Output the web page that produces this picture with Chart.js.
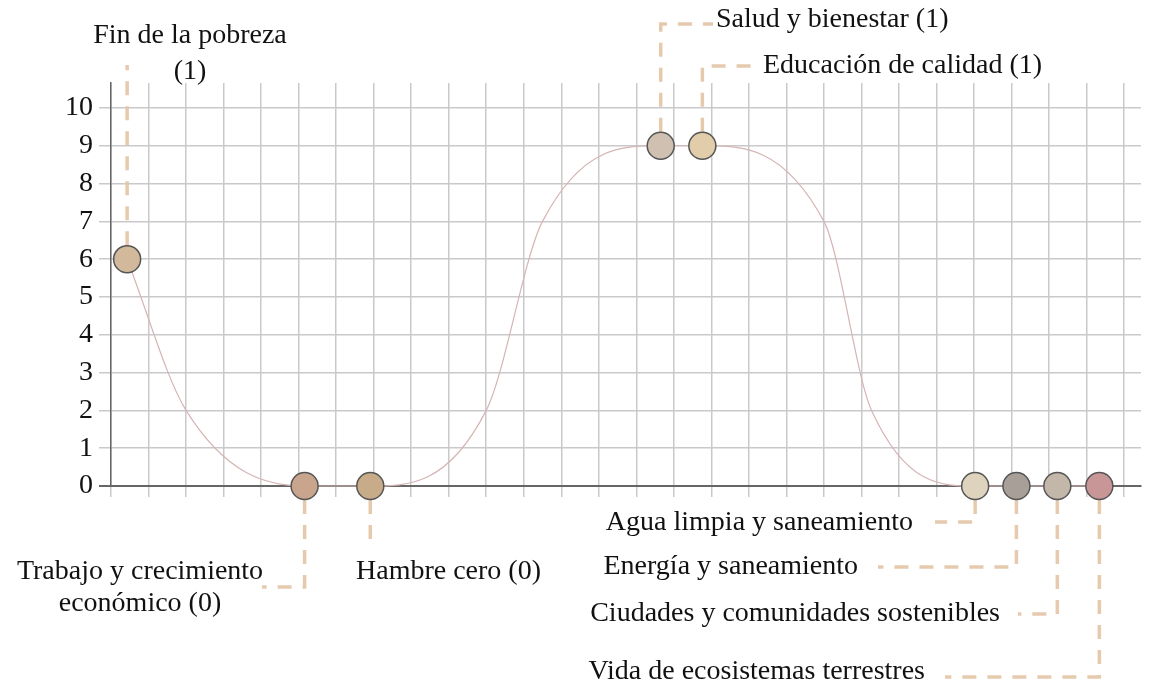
<!DOCTYPE html>
<html>
<head>
<meta charset="utf-8">
<script src="https://cdn.jsdelivr.net/npm/chart.js@4.4.0/dist/chart.umd.min.js"></script>
<style>
  html, body { margin: 0; padding: 0; background: #fff; }
  #contenedor { width: 1156px; height: 686px; }
</style>
</head>
<body>
<div id="contenedor"><canvas id="grafico"></canvas></div>
<script>
// objetivos marcados en la curva
const objetivos = [
    "Fin de la pobreza",
    "Trabajo y crecimiento económico",
    "Hambre cero",
    "Salud y bienestar",
    "Educación de calidad",
    "Agua limpia y saneamiento",
    "Energía y saneamiento",
    "Ciudades y comunidades sostenibles",
    "Vida de ecosistemas terrestres"
];
const posicionX = [0.43, 5.16, 6.91, 14.65, 15.76, 23.03, 24.13, 25.22, 26.34];
const valores = [6, 0, 0, 9, 9, 0, 0, 0, 0];
const etiquetas = [
    ["Fin de la pobreza", "(1)"],
    ["Trabajo y crecimiento", "económico (0)"],
    ["Hambre cero (0)"],
    ["Salud y bienestar (1)"],
    ["Educación de calidad (1)"],
    ["Agua limpia y saneamiento"],
    ["Energía y saneamiento"],
    ["Ciudades y comunidades sostenibles"],
    ["Vida de ecosistemas terrestres"]
];
const coloresPunto = ["#d2b99b", "#c8a58c", "#c8ac8a", "#d0c0b2", "#e1cdaa", "#ded4be", "#a8a098", "#c3b7aa", "#c89696"];

// puntos de la curva sin marcador
const curvaX = [2, 10, 11.5, 19, 20.27];
const curvaY = [2, 2, 7, 7, 2];

const ticksY = [0, 1, 2, 3, 4, 5, 6, 7, 8, 9, 10];

const fuente = '"Liberation Serif", "Times New Roman", serif';

// juntar todo en orden de x
let puntos = [];
for (let i = 0; i < posicionX.length; i++) {
    puntos.push({ x: posicionX[i], y: valores[i], obj: i });
}
for (let i = 0; i < curvaX.length; i++) {
    puntos.push({ x: curvaX[i], y: curvaY[i], obj: -1 });
}
puntos.sort((a, b) => a.x - b.x);

// donde van las lineas punteadas y los textos (en pixeles)
const diseno = [
    { hastaY: 65, lineas: [36, 72], textoX: 190, alinear: "center" },
    { hastaY: 587, hastaX: 262, lineas: [572, 604], textoX: 140, alinear: "center" },
    { hastaY: 545, lineas: [572], textoX: 356, alinear: "left" },
    { hastaY: 24, hastaX: 713, lineas: [20], textoX: 716, alinear: "left" },
    { hastaY: 66, hastaX: 753, lineas: [66], textoX: 763, alinear: "left" },
    { hastaY: 522, hastaX: 935, lineas: [523], textoX: 913, alinear: "right" },
    { hastaY: 567, hastaX: 878, lineas: [567], textoX: 858, alinear: "right" },
    { hastaY: 614, hastaX: 1018, lineas: [614], textoX: 1000, alinear: "right" },
    { hastaY: 677, hastaX: 945, lineas: [672], textoX: 925, alinear: "right" }
];

const anotaciones = {
    id: "anotaciones",
    beforeDatasetsDraw(chart) {
        const c = chart.ctx;
        const xs = chart.scales.x;
        const ys = chart.scales.y;
        c.save();
        c.strokeStyle = "rgba(226,196,165,0.9)";
        c.lineWidth = 3.5;
        c.setLineDash([14, 11]);
        for (let i = 0; i < diseno.length; i++) {
            const d = diseno[i];
            const px = xs.getPixelForValue(posicionX[i]);
            const py = ys.getPixelForValue(valores[i]);
            const dir = d.hastaY < py ? -1 : 1;
            c.beginPath();
            c.moveTo(px, py + dir * 14);
            c.lineTo(px, d.hastaY);
            if (d.hastaX !== undefined) c.lineTo(d.hastaX, d.hastaY);
            c.stroke();
        }
        c.restore();
    },
    afterDatasetsDraw(chart) {
        const c = chart.ctx;
        c.save();
        c.fillStyle = "#111";
        c.font = "28px " + fuente;
        c.textBaseline = "middle";
        for (let i = 0; i < diseno.length; i++) {
            const d = diseno[i];
            c.textAlign = d.alinear;
            etiquetas[i].forEach((t, j) => c.fillText(t, d.textoX, d.lineas[j]));
        }
        c.restore();
    }
};

const ctx = document.getElementById("grafico").getContext("2d");
const grafico = new Chart(ctx, {
    type: "line",
    data: {
        datasets: [{
            label: "Objetivos",
            data: puntos,
            parsing: false,
            borderColor: "#d6b4b4",
            borderWidth: 1.2,
            cubicInterpolationMode: "monotone",
            clip: false,
            pointRadius: (c) => (c.raw && c.raw.obj >= 0 ? 13.5 : 0),
            pointHoverRadius: (c) => (c.raw && c.raw.obj >= 0 ? 13.5 : 0),
            pointBackgroundColor: (c) => (c.raw && c.raw.obj >= 0 ? coloresPunto[c.raw.obj] : "transparent"),
            pointBorderColor: "#555",
            pointBorderWidth: 1.5
        }]
    },
    options: {
        responsive: true,
        maintainAspectRatio: false,
        animation: false,
        layout: { padding: { top: 83, right: 9, bottom: 0, left: 0 } },
        plugins: {
            legend: { display: false },
            tooltip: { enabled: false }
        },
        scales: {
            x: {
                type: "linear",
                min: 0,
                max: 27.45,
                afterFit: (s) => { s.height = 200; },
                ticks: { stepSize: 1, includeBounds: false, display: false },
                grid: { color: "#c9c9cc", lineWidth: 1.5, tickLength: 11 },
                border: { color: "#666", width: 2 }
            },
            y: {
                min: 0,
                max: 10.66,
                afterFit: (s) => { s.width = 111; },
                afterBuildTicks: (s) => { s.ticks = ticksY.map((v) => ({ value: v })); },
                ticks: {
                    stepSize: 1,
                    padding: 6,
                    color: "#111",
                    font: { family: fuente, size: 28 }
                },
                grid: {
                    color: (c) => (c.tick && c.tick.value === 0 ? "#666" : "#c9c9cc"),
                    lineWidth: (c) => (c.tick && c.tick.value === 0 ? 2 : 1.5),
                    tickLength: 12
                },
                border: { color: "#666", width: 1.5 }
            }
        }
    },
    plugins: [anotaciones]
});
</script>
</body>
</html>
